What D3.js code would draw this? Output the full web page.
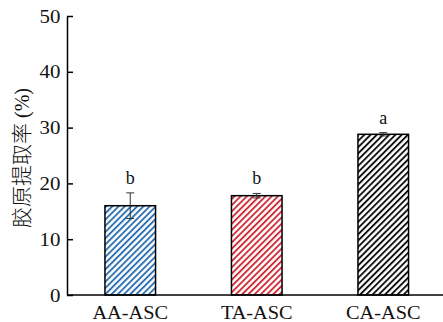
<!DOCTYPE html>
<html><head><meta charset="utf-8">
<script src="https://cdn.jsdelivr.net/npm/d3@7"></script>
<style>body{margin:0;background:#fff}svg{display:block}
.serif text, text.serif, tspan.serif{font-family:'Liberation Serif','Times New Roman',serif !important}</style>
</head><body>
<svg id="c" width="443" height="322"></svg>
<script>
const categories = ["AA-ASC", "TA-ASC", "CA-ASC"];
const values = [16.0, 17.8, 28.8];
const errors = [2.3, 0.4, 0.3];
const letters = ["b", "b", "a"];
const colors = ["#2f72b3", "#cf2f3a", "#111111"];
const yTicks = [0, 10, 20, 30, 40, 50];
const yTitleMain = "胶原提取率";
const yTitleUnit = " (%)";

const svg = d3.select("#c");
const x = d3.scaleBand().domain(categories).range([67, 446.5]).paddingInner(0.6).paddingOuter(0.3);
const y = d3.scaleLinear().domain([0, 50]).range([295, 16]);

const defs = svg.append("defs");
categories.forEach((c, i) => {
  const p = defs.append("pattern").attr("id", "h" + i).attr("patternUnits", "userSpaceOnUse")
    .attr("width", 4.4).attr("height", 4.4).attr("patternTransform", "rotate(45)");
  p.append("rect").attr("width", 4.4).attr("height", 4.4).attr("fill", "#fff");
  p.append("rect").attr("x", 0).attr("width", 1.9).attr("height", 4.4).attr("fill", colors[i]);
});

// bars
svg.selectAll("rect.bar").data(categories).enter().append("rect").attr("class", "bar")
  .attr("x", d => x(d)).attr("width", x.bandwidth())
  .attr("y", (d, i) => y(values[i])).attr("height", (d, i) => y(0) - y(values[i]))
  .attr("fill", (d, i) => `url(#h${i})`).attr("stroke", "#000").attr("stroke-width", 1.5);

// error bars
categories.forEach((c, i) => {
  const cx = x(c) + x.bandwidth() / 2;
  const g = svg.append("g").attr("stroke", "#333").attr("stroke-width", 1);
  g.append("line").attr("x1", cx).attr("x2", cx).attr("y1", y(values[i] + errors[i])).attr("y2", y(values[i] - errors[i]));
  g.append("line").attr("x1", cx - 4).attr("x2", cx + 4).attr("y1", y(values[i] + errors[i])).attr("y2", y(values[i] + errors[i]));
  g.append("line").attr("x1", cx - 4).attr("x2", cx + 4).attr("y1", y(values[i] - errors[i])).attr("y2", y(values[i] - errors[i]));
  svg.append("text").attr("class", "serif").attr("x", cx).attr("y", y(values[i] + errors[i]) - 9)
    .attr("text-anchor", "middle").style("font-size", "18px").attr("fill", "#111")
    .text(letters[i]);
});

// y axis
const yAxis = svg.append("g").attr("class", "serif").attr("transform", "translate(67,0)")
  .call(d3.axisLeft(y).tickValues(yTicks).tickSizeInner(-6).tickSizeOuter(0).tickPadding(6));
yAxis.attr("font-family", null).attr("font-size", null);
yAxis.select(".domain").attr("stroke", "#000").attr("stroke-width", 1.5);
yAxis.selectAll(".tick line").attr("stroke", "#000").attr("stroke-width", 1.5);
yAxis.selectAll(".tick text").style("font-size", "19px").attr("fill", "#111")
  .attr("transform", "scale(1.1,1)");

// x axis
const xAxis = svg.append("g").attr("class", "serif").attr("transform", "translate(0,295)")
  .call(d3.axisBottom(x).tickSize(0).tickPadding(11));
xAxis.attr("font-family", null).attr("font-size", null);
xAxis.select(".domain").attr("d", "M67,0H443").attr("stroke", "#000").attr("stroke-width", 1.5);
xAxis.selectAll(".tick text").style("font-size", "19px").attr("fill", "#111").attr("dy", "0.71em")
  .attr("transform", "scale(1.07,1)");

// y title
const title = svg.append("text").attr("transform", "translate(29,158) rotate(-90)")
  .attr("text-anchor", "middle").attr("fill", "#111");
title.append("tspan").style("font-family", "'Noto Sans CJK SC', sans-serif")
  .style("font-size", "21px").style("font-weight", 300).text(yTitleMain);
title.append("tspan").attr("class", "serif").style("font-size", "20px").text(yTitleUnit);
</script>
</body></html>
